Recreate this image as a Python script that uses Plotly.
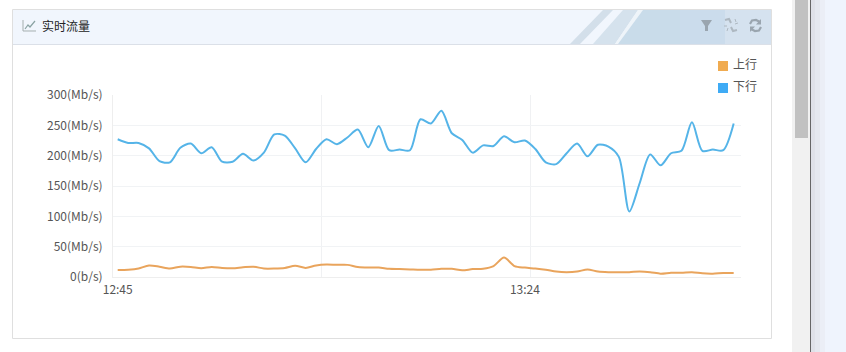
import plotly.graph_objects as go

minutes = ["12:%02d" % m for m in range(45, 60)] + ["13:%02d" % m for m in range(0, 45)]
shown_times = ["12:45", "13:24"]
y_ticks = [0, 50, 100, 150, 200, 250, 300]
y_labels = ["0(b/s)", "50(Mb/s)", "100(Mb/s)", "150(Mb/s)", "200(Mb/s)", "250(Mb/s)", "300(Mb/s)"]

upstream = [11.5, 12, 14, 19, 17, 14, 17, 16.5, 14.5, 16.5, 15, 14.5, 16, 17, 14, 14, 15, 18.5, 15, 19,
            20.5, 20, 20, 16.5, 15.5, 15.5, 13.5, 13, 12.5, 12, 12, 13.5, 13.5, 11, 13, 13.5, 18, 32, 18, 15.5,
            14, 12, 9, 8, 9, 12.5, 9, 8, 8, 8, 9, 8, 5.5, 7, 7, 8, 6, 5.5, 6.5, 6.5]
downstream = [227, 221, 221, 212, 191, 189, 213, 220, 204, 214, 190, 190, 203, 192, 205, 235, 233, 212, 189, 211,
              227, 219, 230, 243, 214, 249, 209, 210, 209, 260, 253, 274, 237, 226, 205, 217, 216, 232, 222, 225,
              211, 189, 186, 204, 220, 199, 218, 215, 198, 108, 155, 202, 184, 204, 208, 255, 208, 210, 209, 253]

ORANGE, BLUE = "#e9a45c", "#55b4e8"
P_L, P_R, P_T, P_B = 113, 741, 95, 277


def px(x):
    return (x - P_L) / (P_R - P_L)


def py(y):
    return (P_B - y) / (P_B - P_T)


def rect(x0, y0, x1, y1, fill, line=None, width=1):
    return dict(type="rect", xref="paper", yref="paper", x0=px(x0), y0=py(y0), x1=px(x1), y1=py(y1),
                fillcolor=fill, line=dict(color=line or fill, width=width if line else 0), layer="below")


def path(points, fill=None, line=None, width=1.5, close=True):
    d = "M " + " L ".join(f"{px(a):.5f},{py(b):.5f}" for a, b in points) + (" Z" if close else "")
    return dict(type="path", xref="paper", yref="paper", path=d, fillcolor=fill or "rgba(0,0,0,0)",
                line=dict(color=line or "rgba(0,0,0,0)", width=width if line else 0), layer="below")


shapes = [
    rect(792, 0, 810, 352, "#f1f1f1"),
    rect(795, 0, 808, 138, "#c1c1c1"),
    rect(810, 0, 811, 352, "#666666"),
    rect(811, 0, 815, 352, "#dfe1e8"),
    rect(815, 0, 820, 352, "#e5e8ef"),
    rect(820, 0, 825, 352, "#ebeef6"),
    rect(825, 0, 846, 352, "#eff4fd"),
    rect(12.5, 9.5, 771.5, 338.5, "#ffffff", "#dfdfdf", 1),
    rect(13, 10, 771, 44, "#f1f6fd"),
    path([(570, 44), (580, 44), (613, 10), (603, 10)], "#d3dfea"),
    path([(593, 44), (615, 44), (638, 10), (623, 10)], "#d5e2ed"),
    path([(615, 44), (618, 44), (643, 10), (638, 10)], "#eef4f9"),
    path([(618, 44), (680, 44), (680, 10), (643, 10)], "#c9dcea"),
    rect(680, 10, 725, 44, "#cbdcec"),
    rect(725, 10, 771, 44, "#d5e2ef"),
    rect(13, 44, 771, 45, "#dbe0e8"),
    # title icon
    path([(23, 20), (23, 31), (36, 31)], None, "#a5afaf", 1, close=False),
    path([(25, 29), (28, 25), (30, 27), (35, 21)], None, "#8aa3a3", 1.2, close=False),
    # funnel
    path([(701, 20), (712, 20), (708, 26), (708, 31), (705, 31), (705, 26)], "#9aa5af"),
    # broken link
    path([(725, 20), (729, 19), (731, 23)], None, "#aeb8c1", 2, close=False),
    path([(737, 30), (733, 31), (731, 27)], None, "#aeb8c1", 2, close=False),
    path([(735, 19), (736, 22)], None, "#aeb8c1", 1, close=False),
    path([(738, 23), (735, 24)], None, "#aeb8c1", 1, close=False),
    path([(724, 26), (727, 26)], None, "#aeb8c1", 1, close=False),
    path([(727, 31), (728, 28)], None, "#aeb8c1", 1, close=False),
    # refresh
    path([(750, 24), (752, 20.5), (756, 20), (760, 22)], None, "#9aa5af", 2.2, close=False),
    path([(761, 27), (759, 30.5), (755, 31), (751, 29)], None, "#9aa5af", 2.2, close=False),
    path([(761, 19), (761, 24.5), (756, 24.5)], "#9aa5af"),
    path([(750, 32), (750, 26.5), (755, 26.5)], "#9aa5af"),
    # legend swatches
    rect(718, 61, 728, 71, "#f0ab50"),
    rect(718, 83, 728, 93, "#3fabf5"),
]


def label(x, y, text, size=12, color="#555555", anchor="left"):
    return dict(xref="paper", yref="paper", x=px(x), y=py(y), text=text, showarrow=False, xanchor=anchor,
                yanchor="middle", font=dict(size=size, color=color, family="Noto Sans CJK SC"))


annotations = [
    label(40, 25, "实时流量", 12, "#222222"),
    label(731, 63.5, "上行"),
    label(731, 85.5, "下行"),
]

index = list(range(len(minutes)))
fig = go.Figure()
fig.add_trace(go.Scatter(x=index, y=upstream, mode="lines", name="上行",
                         line=dict(color=ORANGE, width=2, shape="spline", smoothing=0.8)))
fig.add_trace(go.Scatter(x=index, y=downstream, mode="lines", name="下行",
                         line=dict(color=BLUE, width=2, shape="spline", smoothing=0.8)))
fig.update_layout(
    width=846, height=352, autosize=False, showlegend=False,
    margin=dict(l=P_L, r=846 - P_R, t=P_T, b=352 - P_B, pad=0),
    paper_bgcolor="#ffffff", plot_bgcolor="rgba(0,0,0,0)",
    font=dict(family="Noto Sans CJK SC", size=12, color="#555555"),
    shapes=shapes, annotations=annotations,
    xaxis=dict(range=[-0.45, 59.7], tickmode="array",
               tickvals=[minutes.index(t) for t in shown_times], ticktext=shown_times,
               showgrid=False, zeroline=False, showline=True, linecolor="#eeeeee", ticks="",
               ticklabelstandoff=2,
               minor=dict(tickmode="array", tickvals=[19.5, 39.5, 59.7], showgrid=True,
                          gridcolor="#f0f1f3", gridwidth=1, ticks="")),
    yaxis=dict(range=[0, 300], tickmode="array", tickvals=y_ticks, ticktext=y_labels,
               showgrid=True, gridcolor="#f1f3f5", gridwidth=1, zeroline=False,
               showline=True, linecolor="#eeeeee", ticks="", ticklabelstandoff=7),
)
fig.write_html("out.html", config=dict(displayModeBar=False),
               post_script="document.body.style.margin='0';document.body.style.overflow='hidden';")
